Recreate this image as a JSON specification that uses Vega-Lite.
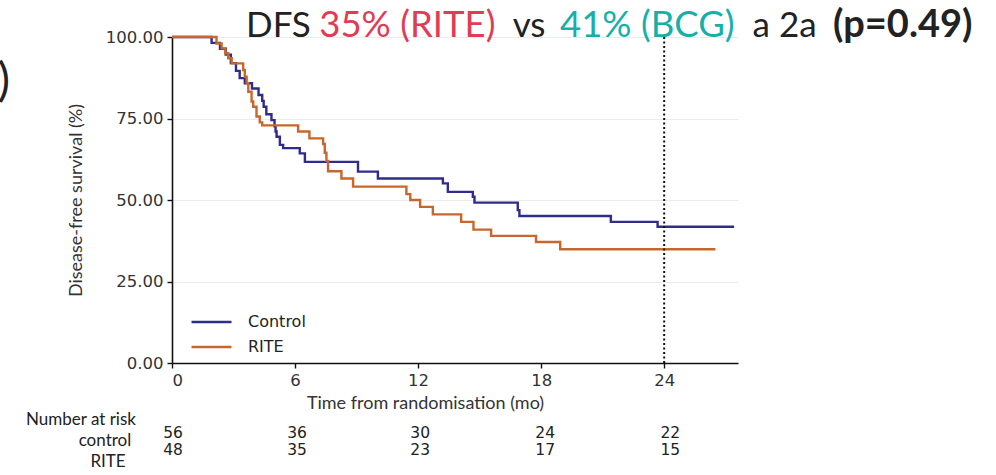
{
  "$schema": "https://vega.github.io/schema/vega-lite/v6.json",
  "width": 566,
  "height": 326,
  "autosize": {"type": "none"},
  "padding": {"left": 172, "top": 37, "right": 258, "bottom": 112},
  "background": "#ffffff",
  "config": {
    "view": {"stroke": null},
    "axis": {
      "domainColor": "#111111",
      "domainWidth": 1.6,
      "tickColor": "#111111",
      "tickWidth": 1.4,
      "tickSize": 5,
      "labelFont": "DejaVu Sans",
      "labelFontSize": 16.5,
      "labelColor": "#333333",
      "titleFont": "Lato",
      "titleFontSize": 18,
      "titleFontWeight": "normal",
      "titleColor": "#333333"
    }
  },
  "datasets": {
    "km": [
      {"group": "Control", "t": 0, "s": 100},
      {"group": "Control", "t": 1.93, "s": 98.2},
      {"group": "Control", "t": 2.34, "s": 96.4},
      {"group": "Control", "t": 2.62, "s": 94.6},
      {"group": "Control", "t": 2.87, "s": 92.0},
      {"group": "Control", "t": 3.12, "s": 89.6},
      {"group": "Control", "t": 3.3, "s": 87.4},
      {"group": "Control", "t": 3.55, "s": 85.8},
      {"group": "Control", "t": 3.9, "s": 84.2},
      {"group": "Control", "t": 4.22, "s": 82.2},
      {"group": "Control", "t": 4.4, "s": 80.4},
      {"group": "Control", "t": 4.47, "s": 78.6},
      {"group": "Control", "t": 4.6, "s": 76.3},
      {"group": "Control", "t": 4.85, "s": 74.5},
      {"group": "Control", "t": 5.0, "s": 72.6},
      {"group": "Control", "t": 5.05, "s": 71.0},
      {"group": "Control", "t": 5.1, "s": 69.4},
      {"group": "Control", "t": 5.26, "s": 66.9},
      {"group": "Control", "t": 5.42, "s": 65.9},
      {"group": "Control", "t": 6.23, "s": 64.3},
      {"group": "Control", "t": 6.48, "s": 61.7},
      {"group": "Control", "t": 9.07, "s": 58.7},
      {"group": "Control", "t": 10.04, "s": 56.6},
      {"group": "Control", "t": 13.21, "s": 55.1},
      {"group": "Control", "t": 13.45, "s": 52.5},
      {"group": "Control", "t": 14.67, "s": 51.0},
      {"group": "Control", "t": 14.75, "s": 49.2},
      {"group": "Control", "t": 16.86, "s": 46.9},
      {"group": "Control", "t": 16.94, "s": 45.1},
      {"group": "Control", "t": 21.4, "s": 43.3},
      {"group": "Control", "t": 23.68, "s": 41.8},
      {"group": "Control", "t": 27.41, "s": 41.8},
      {"group": "RITE", "t": 0, "s": 100},
      {"group": "RITE", "t": 2.17, "s": 98.0},
      {"group": "RITE", "t": 2.42, "s": 96.5},
      {"group": "RITE", "t": 2.6, "s": 95.0},
      {"group": "RITE", "t": 2.74, "s": 93.5},
      {"group": "RITE", "t": 2.91, "s": 91.9},
      {"group": "RITE", "t": 3.47, "s": 89.9},
      {"group": "RITE", "t": 3.55, "s": 87.8},
      {"group": "RITE", "t": 3.64, "s": 85.8},
      {"group": "RITE", "t": 3.72, "s": 83.2},
      {"group": "RITE", "t": 3.88, "s": 80.2},
      {"group": "RITE", "t": 3.96, "s": 78.6},
      {"group": "RITE", "t": 4.12, "s": 75.6},
      {"group": "RITE", "t": 4.28, "s": 73.8},
      {"group": "RITE", "t": 4.4, "s": 72.9},
      {"group": "RITE", "t": 6.15, "s": 71.0},
      {"group": "RITE", "t": 6.7, "s": 68.9},
      {"group": "RITE", "t": 7.37, "s": 67.2},
      {"group": "RITE", "t": 7.45, "s": 64.5},
      {"group": "RITE", "t": 7.53, "s": 62.0},
      {"group": "RITE", "t": 7.61, "s": 58.8},
      {"group": "RITE", "t": 8.26, "s": 56.6},
      {"group": "RITE", "t": 8.83, "s": 54.1},
      {"group": "RITE", "t": 11.43, "s": 51.8},
      {"group": "RITE", "t": 11.62, "s": 50.0},
      {"group": "RITE", "t": 12.1, "s": 47.9},
      {"group": "RITE", "t": 12.72, "s": 45.6},
      {"group": "RITE", "t": 14.1, "s": 43.3},
      {"group": "RITE", "t": 14.7, "s": 40.9},
      {"group": "RITE", "t": 15.56, "s": 39.0},
      {"group": "RITE", "t": 17.75, "s": 37.1},
      {"group": "RITE", "t": 18.93, "s": 34.9},
      {"group": "RITE", "t": 26.5, "s": 34.9}
    ],
    "cut": [{"t": 24, "s": 0, "hi": 100}],
    "heading": [
      {"text": "DFS", "t": 3.61, "s": 100, "part": "plain"},
      {"text": "35% (RITE)", "t": 7.18, "s": 100, "part": "rite"},
      {"text": "vs", "t": 16.61, "s": 100, "part": "plain"},
      {"text": "41% (BCG)", "t": 18.92, "s": 100, "part": "bcg"},
      {"text": "a 2a", "t": 28.31, "s": 100, "part": "plain"},
      {"text": "(p=0.49)", "t": 32.23, "s": 100, "part": "p"},
      {"text": ")", "t": -7.9, "s": 82, "part": "edge"}
    ],
    "risk": [
      {"arm": "control", "t": 0.05, "s": -21.5, "n": "56"},
      {"arm": "control", "t": 6.1, "s": -21.5, "n": "36"},
      {"arm": "control", "t": 12.1, "s": -21.5, "n": "30"},
      {"arm": "control", "t": 18.2, "s": -21.5, "n": "24"},
      {"arm": "control", "t": 24.3, "s": -21.5, "n": "22"},
      {"arm": "RITE", "t": 0.05, "s": -26.7, "n": "48"},
      {"arm": "RITE", "t": 6.1, "s": -26.7, "n": "35"},
      {"arm": "RITE", "t": 12.1, "s": -26.7, "n": "23"},
      {"arm": "RITE", "t": 18.2, "s": -26.7, "n": "17"},
      {"arm": "RITE", "t": 24.3, "s": -26.7, "n": "15"}
    ],
    "riskLabels": [
      {"label": "Number at risk", "t": -4.44, "s": -17.6},
      {"label": "control", "t": -3.27, "s": -23.8},
      {"label": "RITE", "t": -3.12, "s": -30.4}
    ]
  },
  "layer": [
    {
      "data": {"name": "km"},
      "mark": {"type": "line", "interpolate": "step-after", "strokeWidth": 2.4},
      "encoding": {
        "x": {
          "field": "t", "type": "quantitative",
          "scale": {"domain": [0, 27.6], "nice": false, "zero": false},
          "axis": {
            "values": [0, 6, 12, 18, 24],
            "grid": false,
            "title": "Time from randomisation (mo)",
            "labelPadding": 4,
            "titleX": 253,
            "titleY": 31,
            "titleBaseline": "top"
          }
        },
        "y": {
          "field": "s", "type": "quantitative",
          "scale": {"domain": [0, 100], "nice": false},
          "axis": {
            "values": [0, 25, 50, 75, 100],
            "format": ".2f",
            "grid": true,
            "gridColor": "#ebebeb",
            "gridWidth": 1,
            "title": "Disease-free survival (%)",
            "labelPadding": 4,
            "titlePadding": 20
          }
        },
        "color": {
          "field": "group", "type": "nominal",
          "scale": {"domain": ["Control", "RITE"], "range": ["#2f2c8c", "#c8672b"]},
          "legend": {
            "title": null,
            "orient": "none",
            "legendX": 18,
            "legendY": 275,
            "padding": 0,
            "symbolType": "stroke",
            "symbolSize": 1600,
            "symbolStrokeWidth": 2.5,
            "clipHeight": 20,
            "rowPadding": 5,
            "labelOffset": 15,
            "labelFont": "DejaVu Sans",
            "labelFontSize": 16,
            "labelColor": "#222222"
          }
        }
      }
    },
    {
      "data": {"name": "cut"},
      "mark": {"type": "rule", "strokeDash": [2, 2.5], "strokeWidth": 2, "color": "#111111"},
      "encoding": {
        "x": {"field": "t", "type": "quantitative", "scale": {"domain": [0, 27.6], "nice": false, "zero": false}},
        "y": {"field": "s", "type": "quantitative", "scale": {"domain": [0, 100], "nice": false}},
        "y2": {"field": "hi"}
      }
    },
    {
      "data": {"name": "heading"},
      "transform": [{"filter": "datum.part === 'plain'"}],
      "mark": {"type": "text", "align": "left", "baseline": "alphabetic", "font": "Lato", "fontSize": 35, "color": "#222222"},
      "encoding": {
        "x": {"field": "t", "type": "quantitative", "scale": {"domain": [0, 27.6], "nice": false, "zero": false}},
        "y": {"field": "s", "type": "quantitative", "scale": {"domain": [0, 100], "nice": false}},
        "text": {"field": "text"}
      }
    },
    {
      "data": {"name": "heading"},
      "transform": [{"filter": "datum.part === 'rite'"}],
      "mark": {"type": "text", "align": "left", "baseline": "alphabetic", "font": "Lato", "fontSize": 36.5, "color": "#e03c55"},
      "encoding": {
        "x": {"field": "t", "type": "quantitative", "scale": {"domain": [0, 27.6], "nice": false, "zero": false}},
        "y": {"field": "s", "type": "quantitative", "scale": {"domain": [0, 100], "nice": false}},
        "text": {"field": "text"}
      }
    },
    {
      "data": {"name": "heading"},
      "transform": [{"filter": "datum.part === 'bcg'"}],
      "mark": {"type": "text", "align": "left", "baseline": "alphabetic", "font": "Lato", "fontSize": 36.5, "color": "#16b0a8"},
      "encoding": {
        "x": {"field": "t", "type": "quantitative", "scale": {"domain": [0, 27.6], "nice": false, "zero": false}},
        "y": {"field": "s", "type": "quantitative", "scale": {"domain": [0, 100], "nice": false}},
        "text": {"field": "text"}
      }
    },
    {
      "data": {"name": "heading"},
      "transform": [{"filter": "datum.part === 'p'"}],
      "mark": {"type": "text", "align": "left", "baseline": "alphabetic", "font": "Lato", "fontSize": 38, "fontWeight": "bold", "color": "#222222"},
      "encoding": {
        "x": {"field": "t", "type": "quantitative", "scale": {"domain": [0, 27.6], "nice": false, "zero": false}},
        "y": {"field": "s", "type": "quantitative", "scale": {"domain": [0, 100], "nice": false}},
        "text": {"field": "text"}
      }
    },
    {
      "data": {"name": "heading"},
      "transform": [{"filter": "datum.part === 'edge'"}],
      "mark": {"type": "text", "align": "right", "baseline": "alphabetic", "font": "Lato", "fontSize": 46, "color": "#222222"},
      "encoding": {
        "x": {"field": "t", "type": "quantitative", "scale": {"domain": [0, 27.6], "nice": false, "zero": false}},
        "y": {"field": "s", "type": "quantitative", "scale": {"domain": [0, 100], "nice": false}},
        "text": {"field": "text"}
      }
    },
    {
      "data": {"name": "risk"},
      "mark": {"type": "text", "align": "center", "baseline": "middle", "font": "DejaVu Sans", "fontSize": 15.5, "color": "#222222"},
      "encoding": {
        "x": {"field": "t", "type": "quantitative", "scale": {"domain": [0, 27.6], "nice": false, "zero": false}},
        "y": {"field": "s", "type": "quantitative", "scale": {"domain": [0, 100], "nice": false}},
        "text": {"field": "n"}
      }
    },
    {
      "data": {"name": "riskLabels"},
      "mark": {"type": "text", "align": "center", "baseline": "middle", "font": "Lato", "fontSize": 17, "color": "#222222"},
      "encoding": {
        "x": {"field": "t", "type": "quantitative", "scale": {"domain": [0, 27.6], "nice": false, "zero": false}},
        "y": {"field": "s", "type": "quantitative", "scale": {"domain": [0, 100], "nice": false}},
        "text": {"field": "label"}
      }
    }
  ]
}
